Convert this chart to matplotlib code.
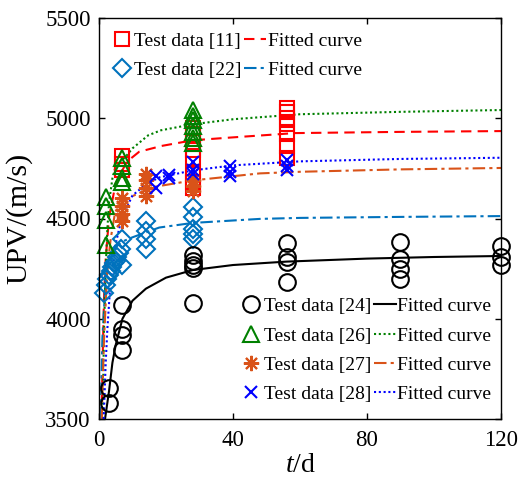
import matplotlib
matplotlib.use("Agg")
import matplotlib.pyplot as plt

plt.rcParams['font.family'] = ['Liberation Serif', 'DejaVu Serif']
plt.rcParams['mathtext.fontset'] = 'custom'
plt.rcParams['mathtext.rm'] = 'Liberation Serif'
plt.rcParams['mathtext.it'] = 'Liberation Serif:italic'

# ---------------- data ----------------
# Test data [11]
t11 = [7, 7, 7, 28, 28, 28, 28, 28, 28, 28, 28, 56, 56, 56, 56, 56, 56, 56]
v11 = [4810, 4770, 4740, 4950, 4920, 4880, 4840, 4800, 4720, 4680, 4650,
       5050, 5030, 5000, 4970, 4920, 4860, 4800]
# Test data [22]
t22 = [1.5, 2, 2.5, 3, 3.5, 4, 4.5, 5, 5.5, 6, 6.5, 7, 7, 14, 14, 14, 14, 28, 28, 28, 28, 28]
v22 = [4130, 4170, 4200, 4220, 4240, 4260, 4280, 4290, 4310, 4330, 4350, 4400, 4270,
       4490, 4440, 4400, 4350, 4555, 4505, 4450, 4425, 4400]
# Test data [24]
t24 = [3, 3, 7, 7, 7, 7, 28, 28, 28, 28, 28, 56, 56, 56, 56, 90, 90, 90, 90, 120, 120, 120]
v24 = [3655, 3580, 4070, 3950, 3920, 3845, 4320, 4290, 4270, 4255, 4080,
       4380, 4310, 4285, 4185, 4385, 4300, 4250, 4200, 4365, 4310, 4270]
# Test data [26]
t26 = [2, 2, 2, 2, 7, 7, 7, 7, 28, 28, 28, 28, 28, 28, 28]
v26 = [4605, 4560, 4495, 4370, 4800, 4760, 4700, 4680,
       5040, 5010, 4990, 4960, 4930, 4900, 4875]
# Test data [27]
t27 = [7, 7, 7, 7, 14, 14, 14, 14, 28, 28, 28]
v27 = [4600, 4560, 4520, 4490, 4720, 4690, 4650, 4610, 4690, 4660, 4635]
# Test data [28]
t28 = [17, 17, 21, 21, 28, 28, 28, 39, 39, 39, 56, 56, 56]
v28 = [4710, 4650, 4715, 4700, 4780, 4740, 4720, 4760, 4730, 4710, 4790, 4760, 4740]

# Fitted curves
ft11 = [0.8, 1, 1.5, 2, 3, 5, 8.3, 12, 18.7, 28, 38.6, 58.5, 90, 120]
fv11 = [3500, 3735, 4107, 4299, 4506, 4677, 4783, 4833, 4862, 4890, 4903, 4926, 4932, 4936]
ft22 = [0.5, 1, 2, 3, 5, 7, 9.8, 14.7, 18, 28, 48, 60, 90, 120]
fv22 = [3500, 3900, 4200, 4290, 4360, 4385, 4405, 4435, 4455, 4478, 4498, 4503, 4508, 4512]
ft24 = [1.8, 3, 4, 5, 7, 10, 14, 20, 28, 40, 56, 80, 100, 120]
fv24 = [3500, 3640, 3780, 3870, 4000, 4090, 4150, 4205, 4243, 4268, 4285, 4300, 4308, 4313]
ft26 = [1.1, 1.5, 2, 2.5, 3, 4, 4.8, 6, 7.8, 10, 14.7, 18.5, 28, 40, 60, 90, 120]
fv26 = [3500, 3950, 4250, 4450, 4580, 4700, 4750, 4780, 4805, 4850, 4915, 4940, 4970,
        4995, 5020, 5032, 5041]
ft27 = [0.8, 1.5, 2.5, 3.5, 4.8, 6, 9.8, 15.7, 18, 28, 48, 60, 90, 120]
fv27 = [3500, 3900, 4250, 4400, 4530, 4570, 4610, 4655, 4662, 4690, 4725, 4733, 4745, 4752]
ft28 = [1.4, 2, 2.5, 3.3, 4.8, 6.8, 10, 14, 18, 28, 40, 60, 90, 120]
fv28 = [3500, 3780, 3950, 4150, 4360, 4505, 4615, 4670, 4705, 4740, 4765, 4785, 4797, 4803]

x_ticks = [0, 40, 80, 120]
y_ticks = [3500, 4000, 4500, 5000, 5500]

# ---------------- styles ----------------
c11, c22, c24 = '#FF0000', '#0072BD', '#000000'
c26, c27, c28 = '#008000', '#D95319', '#0000FF'
lw = 1.5
mew = 1.5

fig = plt.figure(figsize=(5.23, 4.79), dpi=100)
ax = fig.add_axes([99/523, 1-419/479, 402/523, 401/479])

# curves
l11, = ax.plot(ft11, fv11, color=c11, ls=(0, (5, 3)), lw=lw)
l22, = ax.plot(ft22, fv22, color=c22, ls=(0, (6, 2, 1.5, 2)), lw=lw)
l24, = ax.plot(ft24, fv24, color=c24, ls='-', lw=lw)
l26, = ax.plot(ft26, fv26, color=c26, ls=(0, (1, 1.3)), lw=lw)
l27, = ax.plot(ft27, fv27, color=c27, ls=(0, (6, 2, 1.5, 2)), lw=lw)
l28, = ax.plot(ft28, fv28, color=c28, ls=(0, (1, 1.3)), lw=lw)

# markers
kw = dict(ls='none', mfc='none', mew=mew, clip_on=False)
m11, = ax.plot(t11, v11, marker='s', ms=10, mec=c11, **kw)
m22, = ax.plot(t22, v22, marker='D', ms=9, mec=c22, **kw)
m24, = ax.plot(t24, v24, marker='o', ms=12, mec=c24, **kw)
m26, = ax.plot(t26, v26, marker='^', ms=12, mec=c26, **kw)
m27, = ax.plot(t27, v27, marker=(8, 2, 0), ms=11, mec=c27, **kw)
m28, = ax.plot(t28, v28, marker='x', ms=9, mec=c28, **kw)

ax.set_xlim(0, 120)
ax.set_ylim(3500, 5500)
ax.set_xticks(x_ticks)
ax.set_yticks(y_ticks)
ax.tick_params(direction='in', top=True, right=True, length=4.5, width=1,
               labelsize=16.5)
ax.tick_params(axis='x', pad=8)
ax.tick_params(axis='y', pad=6)
for s in ax.spines.values():
    s.set_linewidth(1)

ax.set_xlabel(r'$t$/d', fontsize=20, labelpad=1)
ax.set_ylabel('UPV/(m/s)', fontsize=21.5, labelpad=9)

leg_kw = dict(fontsize=14, frameon=False, handlelength=1.13, handletextpad=0.08,
              columnspacing=0.12, borderpad=0.2, borderaxespad=0, labelspacing=0.6)

leg1 = ax.legend([m11, m22, l11, l22],
                 ['Test data [11]', 'Test data [22]', 'Fitted curve', 'Fitted curve'],
                 ncol=2, loc='upper left', bbox_to_anchor=(0.02, 0.975), **leg_kw)
ax.add_artist(leg1)
ax.legend([m24, m26, m27, m28, l24, l26, l27, l28],
          ['Test data [24]', 'Test data [26]', 'Test data [27]', 'Test data [28]',
           'Fitted curve', 'Fitted curve', 'Fitted curve', 'Fitted curve'],
          ncol=2, loc='lower right', bbox_to_anchor=(0.985, 0.03), **leg_kw)

fig.savefig('out.png', dpi=100)
